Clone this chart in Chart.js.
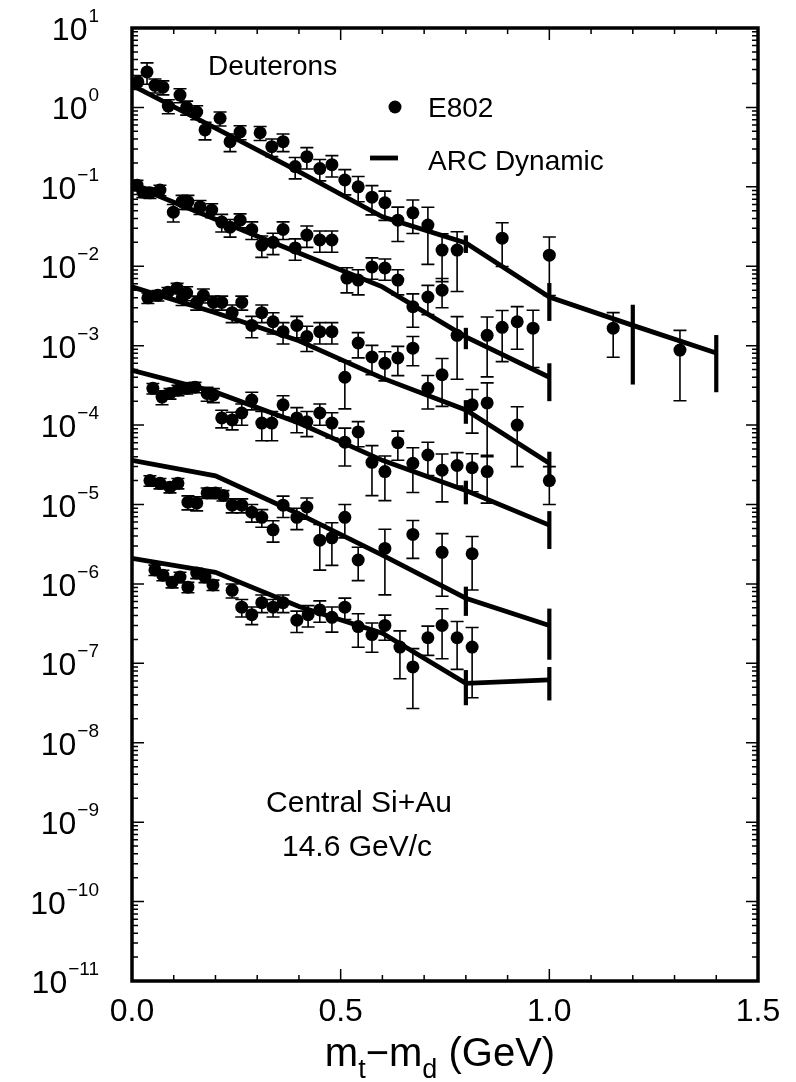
<!DOCTYPE html>
<html>
<head>
<meta charset="utf-8">
<script src="https://cdn.jsdelivr.net/npm/chart.js@4.4.1/dist/chart.umd.min.js"></script>
<style>
  html,body{margin:0;padding:0;background:#fff}
  #wrap{width:796px;height:1082px}
</style>
</head>
<body>
<div id="wrap"><canvas id="deuteronChart" width="796" height="1082"></canvas></div>
<script>
// tick labels
const xTickVals=[0,0.5,1.0,1.5];
const xTickLabels=['0.0','0.5','1.0','1.5'];
const yTickExps=[1,0,-1,-2,-3,-4,-5,-6,-7,-8,-9,-10,-11];

// E802 data, six spectra (x = mt-md in GeV, y = yield, err = relative error)
const s1X=[0.014,0.036,0.055,0.074,0.087,0.115,0.131,0.155,0.175,0.211,0.235,0.259,0.307,0.335,0.362,0.391,0.419,0.45,0.479,0.51,0.542,0.575,0.606,0.637,0.673,0.709,0.743,0.779,0.887,1.0,1.153,1.313];
const s1Y=[2.1,2.8,1.9,1.8,1.04,1.43,1.0,0.875,0.52,0.73,0.37,0.49,0.48,0.32,0.37,0.18,0.24,0.17,0.19,0.122,0.10,0.074,0.063,0.038,0.047,0.033,0.016,0.016,0.0226,0.0138,0.00166,0.00088];
const s1Err=[0.2,0.3,0.2,0.2,0.2,0.2,0.2,0.2,0.25,0.2,0.25,0.2,0.2,0.25,0.25,0.3,0.3,0.3,0.3,0.35,0.35,0.4,0.4,0.46,0.45,0.68,0.6,0.7,0.56,0.69,0.57,0.77];

const s2X=[0.012,0.026,0.043,0.067,0.099,0.12,0.134,0.163,0.191,0.215,0.235,0.259,0.287,0.311,0.338,0.362,0.391,0.419,0.45,0.479,0.515,0.542,0.575,0.606,0.637,0.673,0.709,0.743,0.779,0.851,0.887,0.923,0.961];
const s2Y=[0.105,0.086,0.084,0.091,0.048,0.065,0.065,0.056,0.051,0.036,0.031,0.038,0.029,0.0185,0.020,0.029,0.017,0.0247,0.0214,0.0214,0.0071,0.0067,0.0098,0.0095,0.0067,0.0031,0.0041,0.0050,0.00135,0.00135,0.0017,0.0020,0.00166];
const s2Err=[0.15,0.15,0.15,0.15,0.25,0.2,0.2,0.2,0.2,0.25,0.25,0.2,0.25,0.3,0.3,0.25,0.3,0.3,0.3,0.3,0.35,0.35,0.3,0.3,0.35,0.45,0.4,0.4,0.72,0.7,0.63,0.55,0.68];

const s3X=[0.038,0.062,0.086,0.108,0.12,0.131,0.155,0.171,0.195,0.215,0.24,0.263,0.287,0.311,0.338,0.362,0.395,0.419,0.45,0.479,0.51,0.542,0.575,0.606,0.637,0.673,0.709,0.743,0.815,0.851,0.923,1.0];
const s3Y=[0.0040,0.0043,0.0047,0.0053,0.0040,0.0046,0.0035,0.0043,0.0035,0.0035,0.0026,0.0035,0.0018,0.0026,0.0020,0.0015,0.0018,0.0013,0.0015,0.0015,0.00040,0.00108,0.00072,0.00060,0.00070,0.00093,0.00029,0.00043,0.00018,0.00019,0.00010,0.000020];
const s3Err=[0.15,0.15,0.15,0.15,0.2,0.2,0.2,0.2,0.2,0.2,0.25,0.2,0.3,0.25,0.3,0.3,0.3,0.35,0.3,0.3,0.6,0.35,0.4,0.4,0.4,0.4,0.45,0.6,0.56,0.79,0.7,0.5];

const s4X=[0.05,0.072,0.091,0.110,0.131,0.151,0.18,0.195,0.215,0.24,0.263,0.287,0.311,0.335,0.362,0.395,0.419,0.45,0.479,0.51,0.542,0.575,0.606,0.637,0.673,0.709,0.743,0.779,0.815,0.851];
const s4Y=[2.9e-4,2.25e-4,2.5e-4,2.75e-4,2.9e-4,3.0e-4,2.5e-4,2.4e-4,1.23e-4,1.16e-4,1.42e-4,2.07e-4,1.06e-4,1.06e-4,1.8e-4,1.23e-4,1.1e-4,1.42e-4,1.06e-4,6.1e-5,8.2e-5,3.4e-5,2.6e-5,6.0e-5,3.3e-5,4.2e-5,2.7e-5,3.1e-5,2.9e-5,2.6e-5];
const s4Err=[0.15,0.2,0.15,0.15,0.15,0.15,0.2,0.2,0.25,0.25,0.3,0.25,0.4,0.4,0.3,0.35,0.35,0.3,0.35,0.5,0.35,0.62,0.57,0.4,0.57,0.45,0.6,0.45,0.5,0.6];

const s5X=[0.043,0.067,0.091,0.110,0.134,0.155,0.18,0.2,0.218,0.24,0.263,0.287,0.311,0.338,0.362,0.395,0.419,0.45,0.479,0.51,0.542,0.606,0.673,0.743,0.815];
const s5Y=[2.0e-5,1.85e-5,1.65e-5,1.85e-5,1.07e-5,1.04e-5,1.4e-5,1.4e-5,1.3e-5,9.8e-6,9.8e-6,8.0e-6,6.9e-6,4.8e-6,9.8e-6,6.9e-6,9.3e-6,3.55e-6,3.8e-6,6.9e-6,2.0e-6,2.8e-6,4.2e-6,2.5e-6,2.4e-6];
const s5Err=[0.15,0.15,0.15,0.15,0.2,0.2,0.15,0.15,0.15,0.2,0.2,0.25,0.25,0.3,0.3,0.3,0.3,0.58,0.55,0.45,0.45,0.74,0.5,0.72,0.65];

const s6X=[0.055,0.074,0.096,0.115,0.134,0.155,0.175,0.194,0.24,0.263,0.287,0.311,0.338,0.362,0.395,0.422,0.45,0.479,0.51,0.542,0.575,0.606,0.642,0.673,0.709,0.743,0.779,0.815];
const s6Y=[1.5e-6,1.29e-6,1.05e-6,1.22e-6,9.1e-7,1.37e-6,1.22e-6,9.7e-7,8.3e-7,5.1e-7,4.1e-7,5.8e-7,5.1e-7,5.8e-7,3.5e-7,4.1e-7,4.7e-7,3.8e-7,5.1e-7,2.9e-7,2.3e-7,3.0e-7,1.6e-7,9.0e-8,2.1e-7,3.0e-7,2.1e-7,1.6e-7];
const s6Err=[0.15,0.15,0.15,0.15,0.15,0.15,0.15,0.15,0.2,0.25,0.25,0.25,0.25,0.25,0.3,0.3,0.3,0.35,0.3,0.45,0.4,0.35,0.6,0.7,0.4,0.62,0.6,0.77];

// ARC Dynamic curves
const cX=[0,0.2,0.4,0.6,0.8,1.0];
const c1X=[0,0.2,0.4,0.6,0.8,1.0,1.2,1.4];
const c1Y=[1.9,0.55,0.155,0.042,0.0196,0.0041,0.0018,0.00081];
const c1Err=[0,0,0,0,0.25,0.5,0.82,0.68];
const c2Y=[0.105,0.039,0.0147,0.0055,0.00129,0.0004];
const c2Err=[0,0,0,0,0.3,0.5];
const c3Y=[0.0055,0.0026,0.00115,0.00039,0.000155,0.000033];
const c3Err=[0,0,0,0,0.33,0.4];
const c4Y=[4.9e-4,2.6e-4,1.06e-4,3.6e-5,1.5e-5,5.5e-6];
const c4Err=[0,0,0,0,0.33,0.5];
const c5Y=[3.6e-5,2.3e-5,7.6e-6,2.3e-6,6.6e-7,3.0e-7];
const c5Err=[0,0,0,0,0.4,0.63];
const c6Y=[2.1e-6,1.4e-6,5.2e-7,2.4e-7,5.6e-8,6.2e-8];
const c6Err=[0,0,0,0,0.47,0.45];

const FONT='"Liberation Sans", Arial, Helvetica, sans-serif';
const pts=(xs,ys)=>xs.map((x,i)=>({x,y:ys[i]}));

function dataSet(xs,ys,errs){
  return {type:'scatter',data:pts(xs,ys),errs,cap:6.5,pointRadius:6.5,pointStyle:'circle',
    backgroundColor:'#000',borderColor:'#000',borderWidth:0,order:1};
}
function curveSet(xs,ys,errs){
  return {type:'line',data:pts(xs,ys),errs,cap:0,borderColor:'#000',borderWidth:4.8,
    pointRadius:0,fill:false,tension:0,order:2};
}

// vertical error bars, positioned through the chart scales
const errorBars={id:'errorBars',afterDatasetsDraw(chart){
  const {ctx,chartArea:a,scales:{x,y}}=chart;
  ctx.save();
  ctx.beginPath();ctx.rect(a.left,a.top,a.right-a.left,a.bottom-a.top);ctx.clip();
  ctx.strokeStyle='#000';ctx.lineCap='butt';
  chart.data.datasets.forEach(ds=>{
    if(!ds.errs) return;
    ds.data.forEach((p,i)=>{
      const f=ds.errs[i]; if(!f) return;
      const px=x.getPixelForValue(p.x);
      const top=y.getPixelForValue(p.y*(1+f));
      const bot=y.getPixelForValue(Math.max(p.y*(1-f),1e-12));
      ctx.lineWidth=ds.cap?1.6:4.2;
      ctx.beginPath();ctx.moveTo(px,top);ctx.lineTo(px,bot);
      if(ds.cap){
        ctx.moveTo(px-ds.cap,top);ctx.lineTo(px+ds.cap,top);
        ctx.moveTo(px-ds.cap,bot);ctx.lineTo(px+ds.cap,bot);
      }
      ctx.stroke();
    });
  });
  ctx.restore();
}};

// frame, ticks, tick labels and annotations
const frame={id:'frame',afterDraw(chart){
  const {ctx,chartArea:a,scales:{x,y}}=chart;
  ctx.save();
  ctx.strokeStyle='#000';ctx.fillStyle='#000';
  ctx.lineWidth=1.5;
  for(let i=0;i<=15;i++){
    const px=x.getPixelForValue(i/10), L=i%5===0?12:6;
    ctx.beginPath();
    ctx.moveTo(px,a.bottom);ctx.lineTo(px,a.bottom-L);
    ctx.moveTo(px,a.top);ctx.lineTo(px,a.top+L);
    ctx.stroke();
  }
  for(let e=-11;e<=1;e++){
    for(let m=1;m<=9;m++){
      if(e===1&&m>1) break;
      const py=y.getPixelForValue(m*Math.pow(10,e)), L=m===1?12:6;
      ctx.beginPath();
      ctx.moveTo(a.left,py);ctx.lineTo(a.left+L,py);
      ctx.moveTo(a.right,py);ctx.lineTo(a.right-L,py);
      ctx.stroke();
    }
  }
  ctx.lineWidth=3.5;
  ctx.strokeRect(a.left,a.top,a.right-a.left,a.bottom-a.top);

  // x tick labels
  ctx.font='32px '+FONT;ctx.textAlign='center';ctx.textBaseline='alphabetic';
  xTickVals.forEach((v,i)=>ctx.fillText(xTickLabels[i],x.getPixelForValue(v),1021));

  // y tick labels 10^n
  ctx.textAlign='left';
  yTickExps.forEach(e=>{
    const py=y.getPixelForValue(Math.pow(10,e));
    const exp=e<0?'\u2212'+(-e):String(e);
    ctx.font='19px '+FONT;const ew=ctx.measureText(exp).width;
    ctx.font='32px '+FONT;const bw=ctx.measureText('10').width;
    const right=99;
    ctx.fillText('10',right-ew-1-bw,py+12);
    ctx.font='19px '+FONT;ctx.fillText(exp,right-ew,py-6);
  });

  // axis title m_t - m_d (GeV)
  const parts=[['m',40,0],['t',27,12],['\u2212m',40,0],['d',27,12],[' (GeV)',40,0]];
  let tw=0;
  parts.forEach(p=>{ctx.font=p[1]+'px '+FONT;tw+=ctx.measureText(p[0]).width;});
  let tx=440-tw/2;
  parts.forEach(p=>{ctx.font=p[1]+'px '+FONT;ctx.fillText(p[0],tx,1066+p[2]);tx+=ctx.measureText(p[0]).width;});

  // annotations and legend
  ctx.font='28px '+FONT;
  ctx.fillText('Deuterons',208,75);
  ctx.beginPath();ctx.arc(395,107,6.5,0,Math.PI*2);ctx.fill();
  ctx.fillText('E802',428,117);
  ctx.lineWidth=4.8;ctx.beginPath();ctx.moveTo(370,158);ctx.lineTo(398,158);ctx.stroke();
  ctx.fillText('ARC Dynamic',428,170);
  ctx.font='30px '+FONT;ctx.textAlign='center';
  ctx.fillText('Central Si+Au',359,812);
  ctx.fillText('14.6 GeV/c',357,856);
  ctx.restore();
}};

new Chart(document.getElementById('deuteronChart'),{
  data:{datasets:[
    curveSet(c1X,c1Y,c1Err),curveSet(cX,c2Y,c2Err),curveSet(cX,c3Y,c3Err),
    curveSet(cX,c4Y,c4Err),curveSet(cX,c5Y,c5Err),curveSet(cX,c6Y,c6Err),
    dataSet(s1X,s1Y,s1Err),dataSet(s2X,s2Y,s2Err),dataSet(s3X,s3Y,s3Err),
    dataSet(s4X,s4Y,s4Err),dataSet(s5X,s5Y,s5Err),dataSet(s6X,s6Y,s6Err)
  ]},
  options:{
    responsive:false,devicePixelRatio:1,animation:false,events:[],
    layout:{padding:{left:132,right:38,top:28,bottom:101}},
    plugins:{legend:{display:false},tooltip:{enabled:false}},
    scales:{
      x:{type:'linear',min:0,max:1.5,display:false},
      y:{type:'logarithmic',min:1e-11,max:10,display:false}
    }
  },
  plugins:[errorBars,frame]
});
</script>
</body>
</html>
